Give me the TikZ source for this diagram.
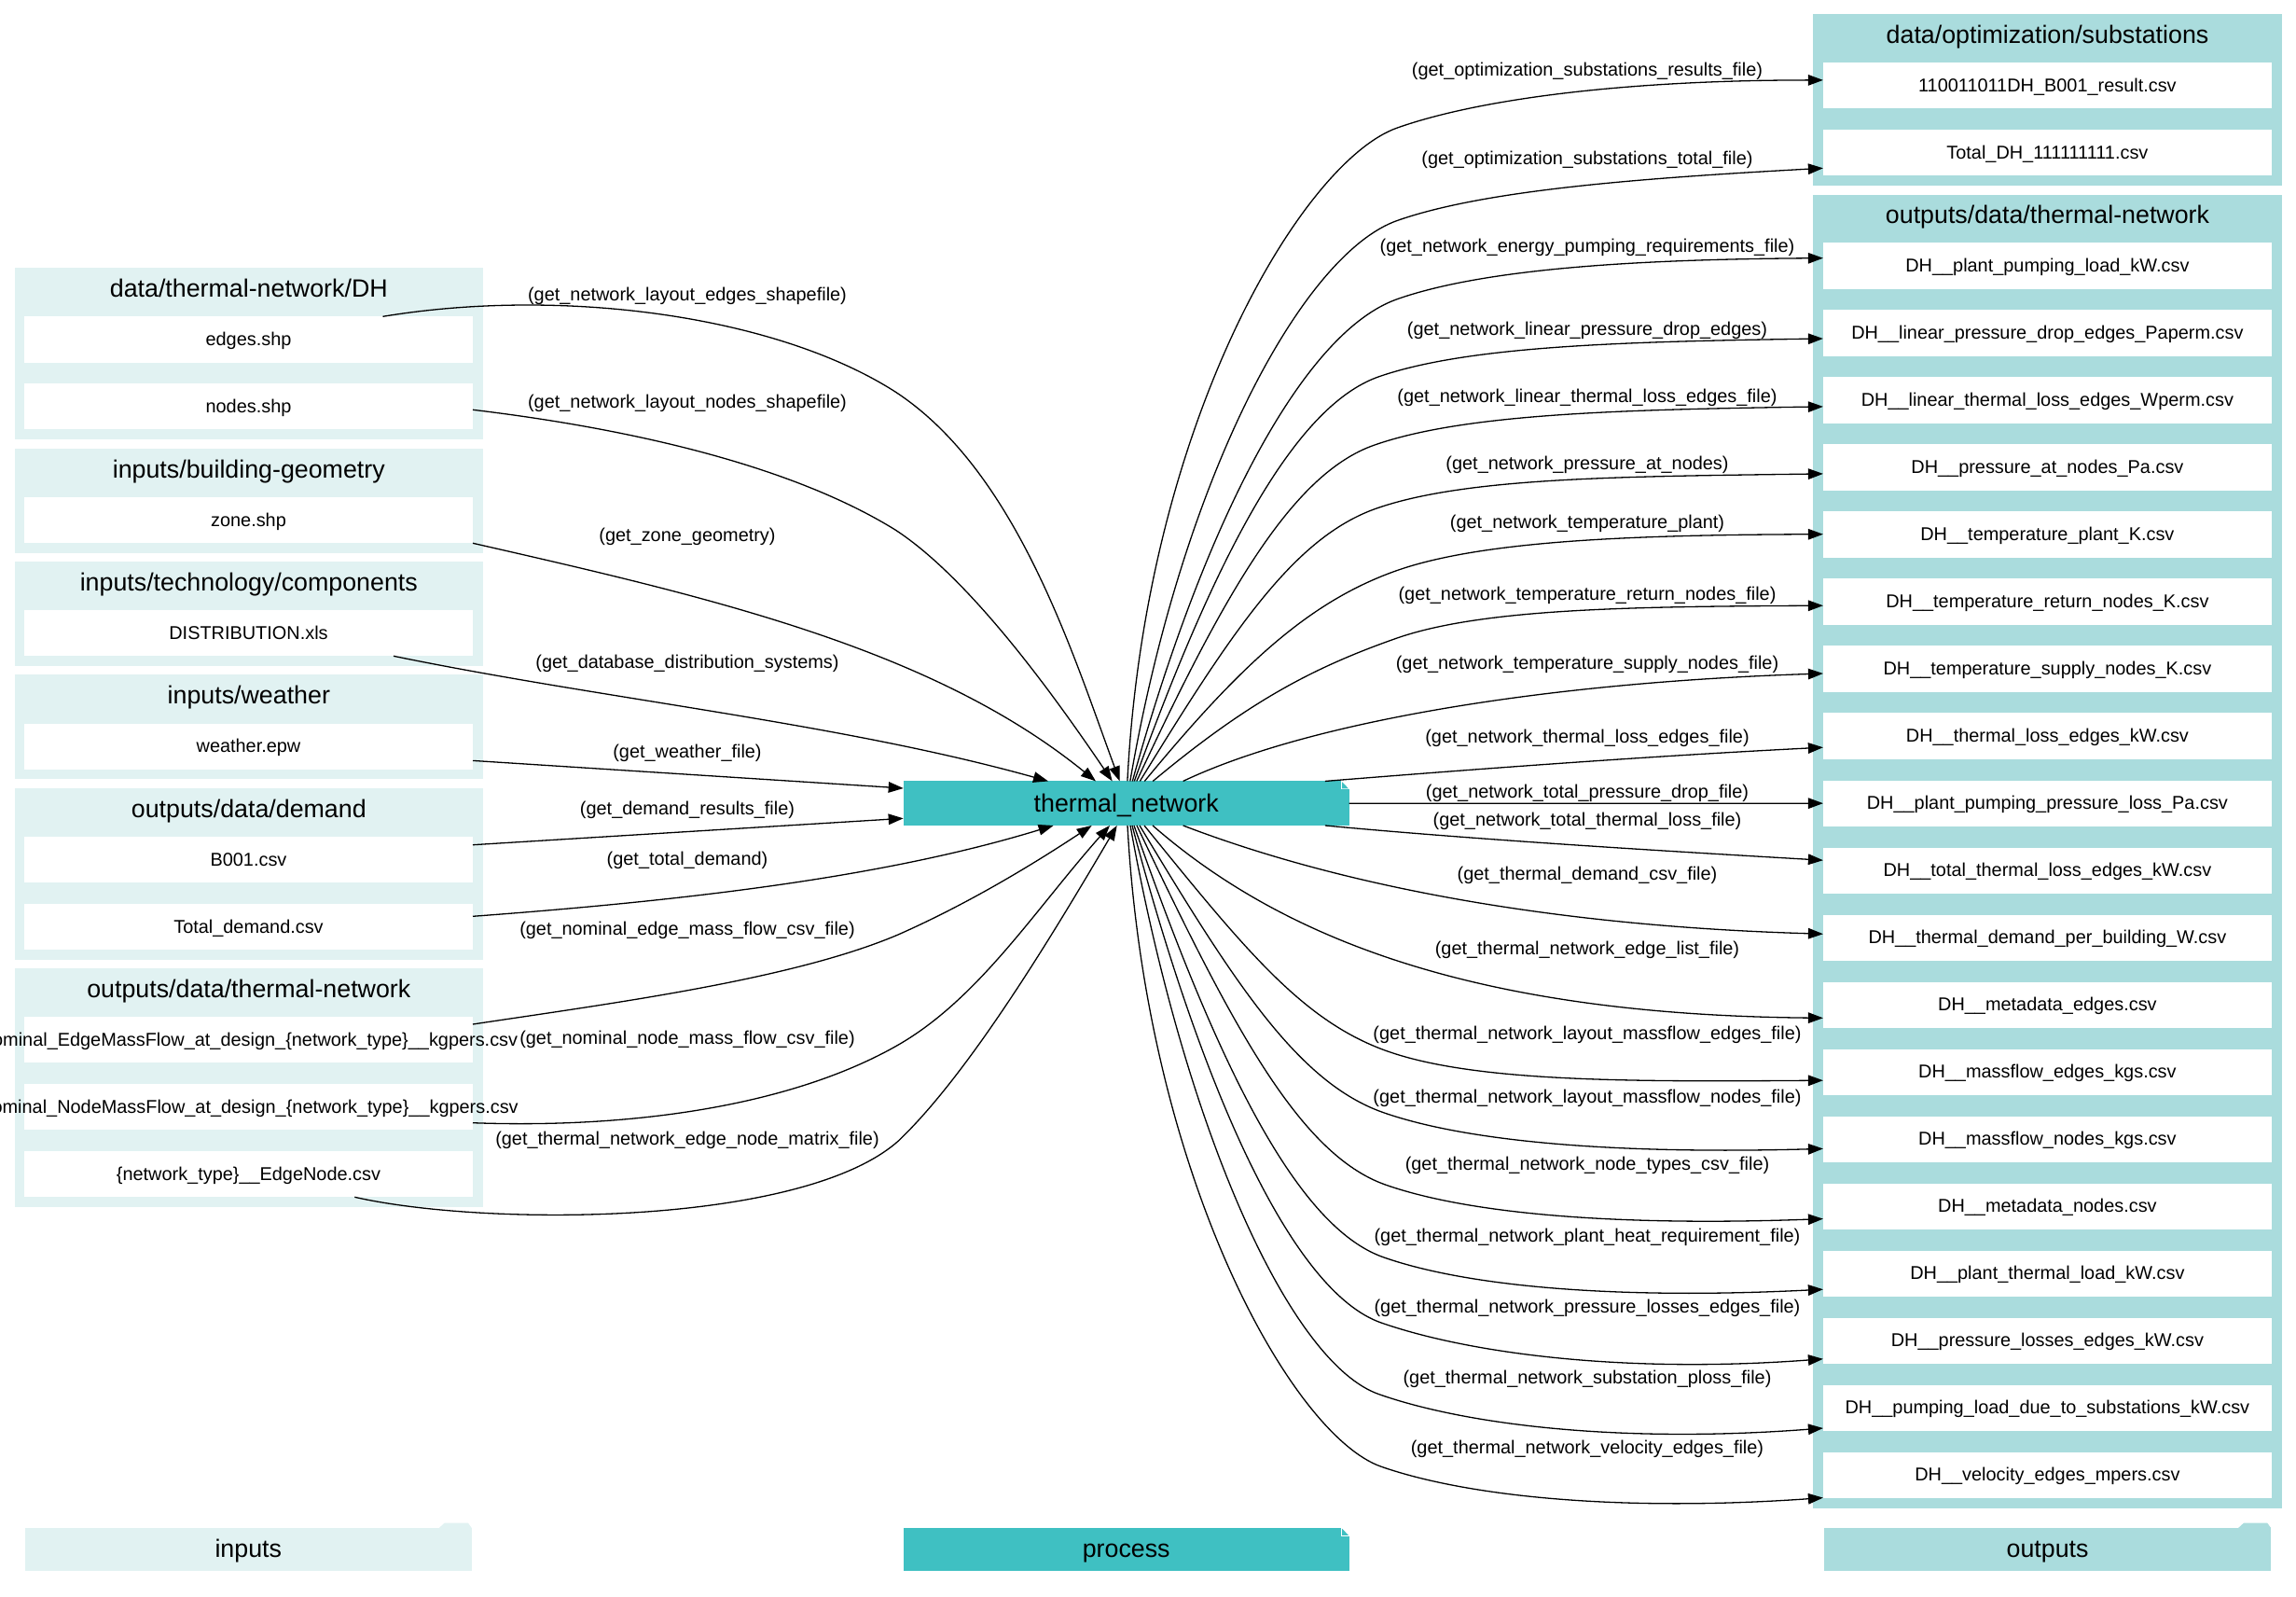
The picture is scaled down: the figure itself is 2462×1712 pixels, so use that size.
\documentclass[tikz,border=0pt]{standalone}
\usepackage{fontspec}
\setmainfont{Liberation Sans}
\usetikzlibrary{calc,arrows.meta}
\definecolor{inlight}{HTML}{E1F2F2}
\definecolor{procteal}{HTML}{3FC0C2}
\definecolor{outlight}{HTML}{AADCDD}
\tikzset{
  x=1pt,y=-1pt,
  clusterbox/.style={rectangle,inner sep=0pt,outer sep=0pt},
  titletext/.style={inner sep=0pt,text height=21pt,text depth=3.4pt,font=\fontsize{26.8pt}{32pt}\selectfont,text=black},
  filebox/.style={rectangle,fill=white,inner sep=0pt,outer sep=0pt,minimum width=481pt,minimum height=49.3pt},
  filetext/.style={inner sep=0pt,text height=16pt,text depth=2.8pt,font=\fontsize{19.9pt}{24pt}\selectfont,text=black},
  edgetext/.style={inner sep=0pt,text height=16pt,text depth=2.8pt,font=\fontsize{19.9pt}{24pt}\selectfont,text=black},
  conn/.style={line width=1.3pt,black,-{Triangle[length=16pt,width=11.5pt]}},
  procbox/.style={rectangle,fill=procteal,inner sep=0pt,outer sep=0pt,minimum width=478pt,minimum height=47.5pt},
  legendbox/.style={rectangle,inner sep=0pt,outer sep=0pt,minimum width=479pt,minimum height=46pt},
}
% name, x0, y0, x1, y1, colour, title
\newcommand\clusterat[7]{%
  \node[clusterbox,fill=#6,minimum width={#4-#2},minimum height={#5-#3}] (#1) at ({(#2+#4)/2},{(#3+#5)/2}) {};
  \node[titletext] (#1t) at ({(#2+#4)/2},{#3+22.5}) {#7};
}
% name, centre x, top y, text
\newcommand\fileat[4]{%
  \node[filebox] (#1) at (#2,{#3+24.65}) {};
  \node[filetext] (#1t) at (#1.center) {#4};
}
% from, bend, to, fraction 1, fraction 2
\newcommand\fan[5]{%
  \draw[conn] let \p1=(#1), \p2=(#2), \p3=(#3), \p4=(tn.center) in
    (\p1) .. controls ({\x1+0.55*(\y2-\y1)/(\y1-\y4)*(\x1-\x4)},{\y1+0.55*(\y2-\y1)})
      and ({\x2-0.35*(\x2-\x1)},{\y2-(\y2-\y1)/abs(\y2-\y1)*0.1225*(\x2-\x1)}) .. (\p2)
    .. controls ({\x2+0.2*(\x3-\x2)},{\y2+#4*(\y3-\y2)})
      and ({\x2+0.55*(\x3-\x2)},{\y2+#5*(\y3-\y2)}) .. (\p3);
}
\newcommand\edgelab[4]{\node[edgetext] (#1) at (#2,{#3*1.5702}) {#4};}
\newcommand\dogear[1]{%
  \fill[white] (#1.north east) -- ++(-9,0) -- ++(0,9) -- ++(9,0) -- cycle;
  \fill[procteal] ($(#1.north east)+(-7.5,0.8)$) -- ++(6.7,7) -- ++(-6.7,0) -- cycle;
}
\newcommand\foldertab[1]{%
  \fill[#1] ($(leg#1.north east)+(-35,0)$) -- ++(6,-5.5) -- ++(25,0) -- ++(4,5.5) -- cycle;
}
\begin{document}
\begin{tikzpicture}
\useasboundingbox (0,0) rectangle (2462,1712);
% left clusters
\clusterat{c1}{15.6}{287.3}{518}{471}{inlight}{data/thermal-network/DH}
\clusterat{c2}{15.6}{480.7}{518}{592.7}{inlight}{inputs/building-geometry}
\clusterat{c3}{15.6}{602}{518}{713.7}{inlight}{inputs/technology/components}
\clusterat{c4}{15.6}{723.3}{518}{835}{inlight}{inputs/weather}
\clusterat{c5}{15.6}{845}{518}{1029}{inlight}{outputs/data/demand}
\clusterat{c6}{15.6}{1038}{518}{1294}{inlight}{outputs/data/thermal-network}
% right clusters
\clusterat{d1}{1944}{15}{2447}{199.3}{outlight}{data/optimization/substations}
\clusterat{d2}{1944}{208.7}{2447}{1616.7}{outlight}{outputs/data/thermal-network}
% left files
\fileat{a1}{266.5}{339.3}{edges.shp}
\fileat{a2}{266.5}{411}{nodes.shp}
\fileat{a3}{266.5}{533}{zone.shp}
\fileat{a4}{266.5}{654}{DISTRIBUTION.xls}
\fileat{a5}{266.5}{775.5}{weather.epw}
\fileat{a6}{266.5}{897}{B001.csv}
\fileat{a7}{266.5}{969}{Total\_demand.csv}
\fileat{a8}{266.5}{1090}{Nominal\_EdgeMassFlow\_at\_design\_\{network\_type\}\_\_kgpers.csv}
\fileat{a9}{266.5}{1162}{Nominal\_NodeMassFlow\_at\_design\_\{network\_type\}\_\_kgpers.csv}
\fileat{a10}{266.5}{1234}{\{network\_type\}\_\_EdgeNode.csv}
% right files
\fileat{r1}{2195.4}{67}{110011011DH\_B001\_result.csv}
\fileat{r2}{2195.4}{139}{Total\_DH\_111111111.csv}
\fileat{o0}{2195.4}{260.3}{DH\_\_plant\_pumping\_load\_kW.csv}
\fileat{o1}{2195.4}{332.3}{DH\_\_linear\_pressure\_drop\_edges\_Paperm.csv}
\fileat{o2}{2195.4}{404.3}{DH\_\_linear\_thermal\_loss\_edges\_Wperm.csv}
\fileat{o3}{2195.4}{476.4}{DH\_\_pressure\_at\_nodes\_Pa.csv}
\fileat{o4}{2195.4}{548.4}{DH\_\_temperature\_plant\_K.csv}
\fileat{o5}{2195.4}{620.4}{DH\_\_temperature\_return\_nodes\_K.csv}
\fileat{o6}{2195.4}{692.4}{DH\_\_temperature\_supply\_nodes\_K.csv}
\fileat{o7}{2195.4}{764.4}{DH\_\_thermal\_loss\_edges\_kW.csv}
\fileat{o8}{2195.4}{836.5}{DH\_\_plant\_pumping\_pressure\_loss\_Pa.csv}
\fileat{o9}{2195.4}{908.5}{DH\_\_total\_thermal\_loss\_edges\_kW.csv}
\fileat{o10}{2195.4}{980.5}{DH\_\_thermal\_demand\_per\_building\_W.csv}
\fileat{o11}{2195.4}{1052.5}{DH\_\_metadata\_edges.csv}
\fileat{o12}{2195.4}{1124.5}{DH\_\_massflow\_edges\_kgs.csv}
\fileat{o13}{2195.4}{1196.6}{DH\_\_massflow\_nodes\_kgs.csv}
\fileat{o14}{2195.4}{1268.6}{DH\_\_metadata\_nodes.csv}
\fileat{o15}{2195.4}{1340.6}{DH\_\_plant\_thermal\_load\_kW.csv}
\fileat{o16}{2195.4}{1412.6}{DH\_\_pressure\_losses\_edges\_kW.csv}
\fileat{o17}{2195.4}{1484.7}{DH\_\_pumping\_load\_due\_to\_substations\_kW.csv}
\fileat{o18}{2195.4}{1556.7}{DH\_\_velocity\_edges\_mpers.csv}
% process node
\node[procbox] (tn) at (1207.7,861.2) {};
\node[titletext] (tnt) at (tn.center) {thermal\_network};
\dogear{tn}
% legend
\node[legendbox,fill=inlight] (leginlight) at (266.3,1661) {};
\foldertab{inlight}
\node[titletext] (legi) at (leginlight.center) {inputs};
\node[procbox,minimum height=46pt] (legp) at (1207.7,1661) {};
\dogear{legp}
\node[titletext] (legpt) at (legp.center) {process};
\node[legendbox,fill=outlight] (legoutlight) at (2195.6,1661) {};
\foldertab{outlight}
\node[titletext] (lego) at (legoutlight.center) {outputs};
% incoming connectors
\draw[conn] (a1.north -| 410.5,0) .. controls (600,308) and (830,337) .. (960,420) .. controls (1090,505) and (1150,700) .. (tn.north -| 1200.7,0);
\draw[conn] (a2.east |- 0,439.3) .. controls (680,460) and (850,500) .. (960,568) .. controls (1040,620) and (1130,745) .. (tn.north -| 1192.7,0);
\draw[conn] (a3.south east) .. controls (760,640) and (1000,695) .. (tn.north -| 1175,0);
\draw[conn] (a4.south -| 422,0) .. controls (650,750) and (900,775) .. (tn.north -| 1124,0);
\draw[conn] (a5.east |- 0,815.4) -- (tn.west |- 0,845);
\draw[conn] (a6.east |- 0,905.7) -- (tn.west |- 0,877.3);
\draw[conn] (a7.east |- 0,982.3) .. controls (740,965) and (950,940) .. (tn.south -| 1129.6,0);
\draw[conn] (a8.east |- 0,1098) .. controls (660,1075) and (850,1050) .. (963,1002) .. controls (1040,968) and (1110,925) .. (tn.south -| 1170.7,0);
\draw[conn] (a9.east |- 0,1203.7) .. controls (680,1210) and (850,1185) .. (963.4,1120) .. controls (1050,1070) and (1110,975) .. (tn.south -| 1190,0);
\draw[conn] (a10.south -| 380.3,0) .. controls (520,1315) and (860,1315) .. (963.4,1223) .. controls (1040,1150) and (1130,1000) .. (tn.south -| 1197.7,0);
% outgoing connectors, upper
\fan{tn.north -| 1208.9,0}{1498.4,137}{r1.west |- 0,85.9}{0.63}{1}
\fan{tn.north -| 1211.8,0}{1498.4,236.4}{r2.west |- 0,180.3}{0.57}{0.8}
\fan{tn.north -| 1214.3,0}{1498.4,320.6}{o0.west |- 0,276.7}{0.73}{0.97}
\fan{tn.north -| 1216.3,0}{1478.5,403.8}{o1.west |- 0,363}{0.81}{0.92}
\fan{tn.north -| 1218.8,0}{1473.5,477.2}{o2.west |- 0,435.9}{0.82}{0.92}
\fan{tn.north -| 1222.3,0}{1476,545}{o3.west |- 0,507.9}{0.9}{0.92}
\fan{tn.north -| 1227.3,0}{1498.4,611.4}{o4.west |- 0,572.7}{0.82}{0.98}
\fan{tn.north -| 1236.2,0}{1498.4,683.9}{o5.west |- 0,649.2}{0.91}{0.97}
\draw[conn] (tn.north -| 1268.6,0) .. controls (1400,775) and (1650,732) .. (o6.west |- 0,722);
\draw[conn] (tn.north -| 1420.8,0) .. controls (1600,823) and (1780,810) .. (o7.west |- 0,801.2);
\draw[conn] (tn.east) -- (o8.west);
\draw[conn] (tn.south -| 1420.8,0) .. controls (1580,900) and (1780,912) .. (o9.west |- 0,922.2);
% outgoing connectors, lower
\draw[conn] (tn.south -| 1268.6,0) .. controls (1420,943) and (1640,992) .. (o10.west |- 0,1001.2);
\draw[conn] (tn.south -| 1236,0) .. controls (1385,1015) and (1600,1088) .. (o11.west |- 0,1091.3);
\fan{tn.south -| 1227,0}{1488.5,1127.2}{o12.west |- 0,1158.2}{1.05}{1.05}
\fan{tn.south -| 1222,0}{1483.5,1192.7}{o13.west |- 0,1231.4}{0.85}{1.15}
\fan{tn.south -| 1219,0}{1486,1270.2}{o14.west |- 0,1306.6}{0.9}{1.21}
\fan{tn.south -| 1216,0}{1483.5,1347.8}{o15.west |- 0,1382.2}{0.96}{1.31}
\fan{tn.south -| 1214,0}{1481,1418}{o16.west |- 0,1456.8}{0.85}{1.41}
\fan{tn.south -| 1212,0}{1478.5,1494.6}{o17.west |- 0,1531}{0.92}{1.45}
\fan{tn.south -| 1209,0}{1481,1572.2}{o18.west |- 0,1605.6}{0.99}{1.45}
% connector labels, left
\edgelab{l1}{737}{201.5}{(get\_network\_layout\_edges\_shapefile)}
\edgelab{l2}{737}{274.5}{(get\_network\_layout\_nodes\_shapefile)}
\edgelab{l3}{737}{365.5}{(get\_zone\_geometry)}
\edgelab{l4}{737}{452}{(get\_database\_distribution\_systems)}
\edgelab{l5}{737}{513}{(get\_weather\_file)}
\edgelab{l6}{737}{552}{(get\_demand\_results\_file)}
\edgelab{l7}{737}{586.5}{(get\_total\_demand)}
\edgelab{l8}{737}{634.5}{(get\_nominal\_edge\_mass\_flow\_csv\_file)}
\edgelab{l9}{737}{708.5}{(get\_nominal\_node\_mass\_flow\_csv\_file)}
\edgelab{l10}{737}{777.5}{(get\_thermal\_network\_edge\_node\_matrix\_file)}
% connector labels, right
\edgelab{m1}{1702}{47.5}{(get\_optimization\_substations\_results\_file)}
\edgelab{m2}{1702}{108}{(get\_optimization\_substations\_total\_file)}
\edgelab{m3}{1702}{168}{(get\_network\_energy\_pumping\_requirements\_file)}
\edgelab{m4}{1702}{224.5}{(get\_network\_linear\_pressure\_drop\_edges)}
\edgelab{m5}{1702}{270.5}{(get\_network\_linear\_thermal\_loss\_edges\_file)}
\edgelab{m6}{1702}{316.5}{(get\_network\_pressure\_at\_nodes)}
\edgelab{m7}{1702}{356.5}{(get\_network\_temperature\_plant)}
\edgelab{m8}{1702}{405.5}{(get\_network\_temperature\_return\_nodes\_file)}
\edgelab{m9}{1702}{452.5}{(get\_network\_temperature\_supply\_nodes\_file)}
\edgelab{m10}{1702}{503}{(get\_network\_thermal\_loss\_edges\_file)}
\edgelab{m11}{1702}{540.5}{(get\_network\_total\_pressure\_drop\_file)}
\edgelab{m12}{1702}{560}{(get\_network\_total\_thermal\_loss\_file)}
\edgelab{m13}{1702}{596.5}{(get\_thermal\_demand\_csv\_file)}
\edgelab{m14}{1702}{647.5}{(get\_thermal\_network\_edge\_list\_file)}
\edgelab{m15}{1702}{705.5}{(get\_thermal\_network\_layout\_massflow\_edges\_file)}
\edgelab{m16}{1702}{749}{(get\_thermal\_network\_layout\_massflow\_nodes\_file)}
\edgelab{m17}{1702}{795}{(get\_thermal\_network\_node\_types\_csv\_file)}
\edgelab{m18}{1702}{843.5}{(get\_thermal\_network\_plant\_heat\_requirement\_file)}
\edgelab{m19}{1702}{892}{(get\_thermal\_network\_pressure\_losses\_edges\_file)}
\edgelab{m20}{1702}{940.5}{(get\_thermal\_network\_substation\_ploss\_file)}
\edgelab{m21}{1702}{988.5}{(get\_thermal\_network\_velocity\_edges\_file)}
\end{tikzpicture}
\end{document}
